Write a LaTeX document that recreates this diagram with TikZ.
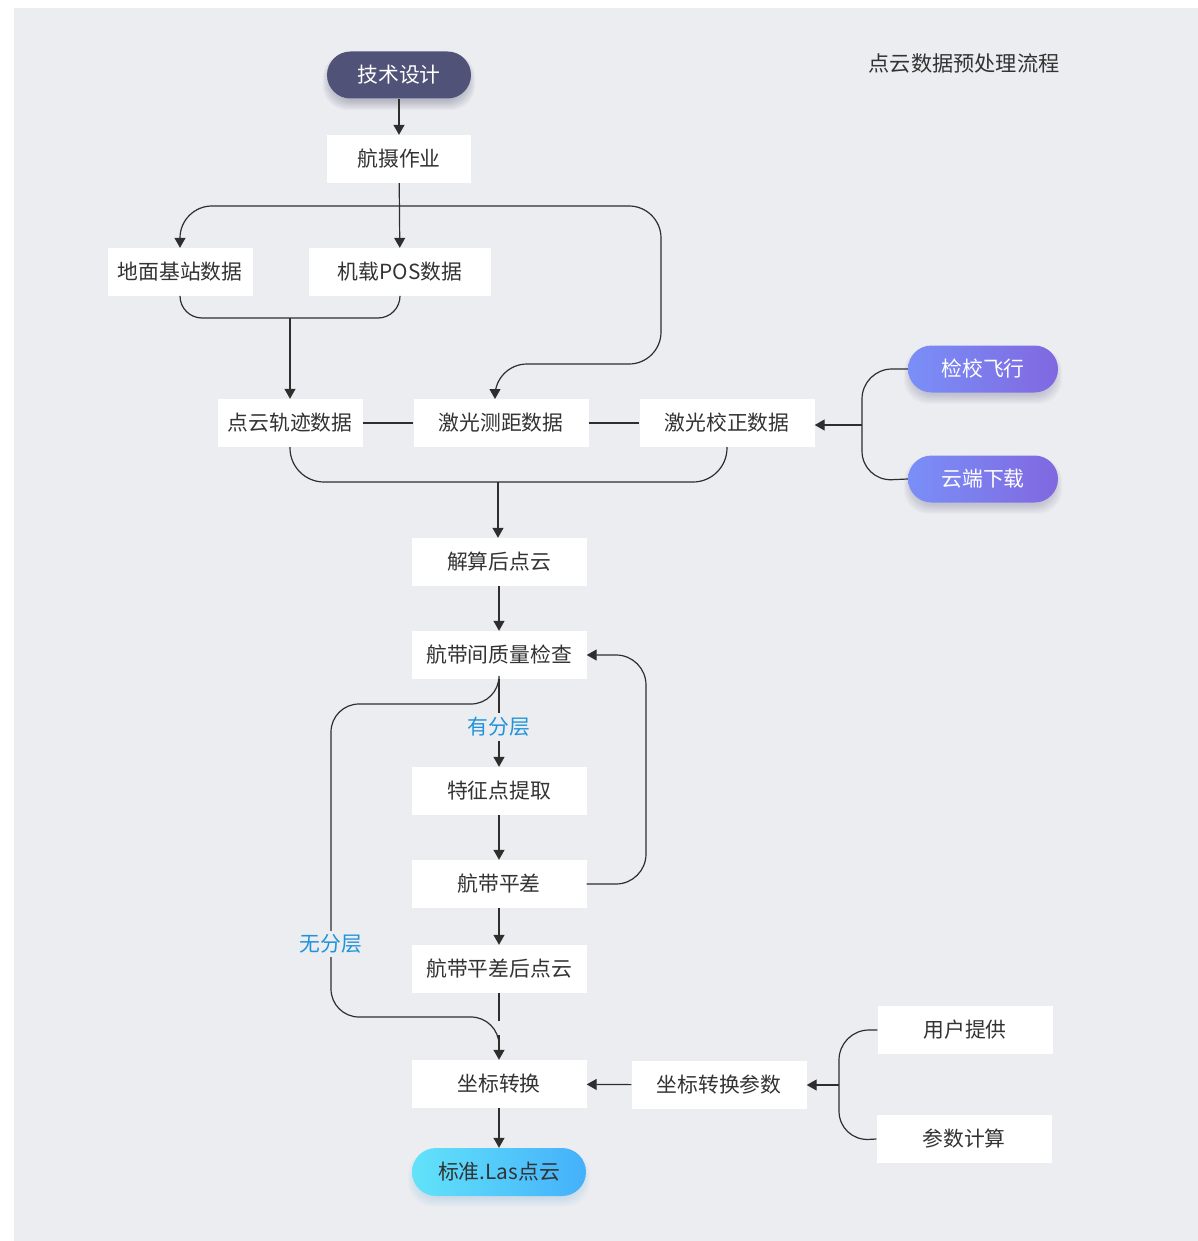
\documentclass[tikz,border=0pt]{standalone}
\usepackage{fontspec}
\setmainfont{Noto Sans CJK SC}
\usetikzlibrary{arrows.meta}
\definecolor{bg}{HTML}{ECEDF1}
\definecolor{txt}{HTML}{333333}
\definecolor{ln}{HTML}{2E2E2E}
\definecolor{lblue}{HTML}{1F93DA}
\definecolor{darkpill}{HTML}{505278}
\definecolor{purL}{HTML}{7A8FF7}
\definecolor{purR}{HTML}{8068E0}
\definecolor{cyL}{HTML}{62E3F9}
\definecolor{cyR}{HTML}{44B0FB}
\definecolor{shdark}{HTML}{3A3C60}
\definecolor{shpur}{HTML}{50507A}
\definecolor{shcy}{HTML}{40A0D0}
\begin{document}
\begin{tikzpicture}[x=1pt,y=-1pt,
  font=\fontsize{20.8}{24}\selectfont,
  box/.style={fill=white, text=txt, minimum width=175pt, minimum height=48pt, inner sep=0pt},
  pill/.style={rounded corners=23.5pt, minimum width=148pt, minimum height=47pt, inner sep=0pt},
  line/.style={draw=ln, line width=1.2pt},
  arr/.style={line, -{Triangle[width=11pt,length=10pt]}},
  lbl/.style={fill=bg, text=lblue, inner sep=4pt}]
\useasboundingbox (0,0) rectangle (1198,1241);
\fill[white] (0,0) rectangle (1198,1241);
\fill[bg] (14,8) rectangle (1198,1241);

% soft shadows under the pills
\foreach \cx/\cy/\w/\sc/\op in {399/75/144/shdark/0.035, 983/369/150/shpur/0.03, 983/479/150/shpur/0.03, 499/1172/174/shcy/0.02}{
  \foreach \i in {1,...,9}{
    \fill[\sc, opacity=\op, rounded corners=24pt]
      ({\cx-\w/2+4-\i*0.9}, {\cy-23+6-\i*0.5}) rectangle ({\cx+\w/2-4+\i*0.9}, {\cy+23+2+\i*1.1});
  }
}

% title
\node[text=txt, font=\fontsize{21.2}{25}\selectfont] (title) at (964,63) {点云数据预处理流程};

% nodes
\node[pill, fill=darkpill, text=white, minimum width=144pt] (tech) at (399,75) {技术设计};
\node[box, minimum width=144pt] (aerial) at (399,159) {航摄作业};
\node[box, minimum width=145pt] (ground) at (180,272) {地面基站数据};
\node[box, minimum width=182pt] (pos) at (400,272) {机载POS数据};
\node[box, minimum width=145pt] (track) at (290,423) {点云轨迹数据};
\node[box] (range) at (501,423) {激光测距数据};
\node[box] (corr) at (727,423) {激光校正数据};
\node[pill, left color=purL, right color=purR, text=white, minimum width=150pt] (check) at (983,369) {检校飞行};
\node[pill, left color=purL, right color=purR, text=white, minimum width=150pt] (cloud) at (983,479) {云端下载};
\node[box] (solve) at (499,562) {解算后点云};
\node[box] (qc) at (499,655) {航带间质量检查};
\node[box] (feat) at (499,791) {特征点提取};
\node[box] (adj) at (499,884) {航带平差};
\node[box] (after) at (499,969) {航带平差后点云};
\node[box] (conv) at (499,1084) {坐标转换};
\node[box] (param) at (719,1085) {坐标转换参数};
\node[box] (user) at (965,1030) {用户提供};
\node[box] (calc) at (964,1139) {参数计算};
\node[pill, left color=cyL, right color=cyR, text=txt, minimum width=174pt, minimum height=48pt, rounded corners=24pt] (las) at (499,1172) {标准.Las点云};

% junction coordinates
\coordinate (j1) at (399,206);
\coordinate (rin) at (495,399);
\coordinate (j2) at (290,318);
\coordinate (j3) at (498,482);
\coordinate (j4) at (862,425);
\coordinate (j5) at (839,1085);

% connectors
\draw[arr] (tech) -- (aerial);
\draw[arr] (aerial) -- (pos);
\draw[arr, rounded corners=32pt] (j1) -| (ground.north);
\draw[arr, rounded corners=32pt] (j1) -- (661,206) -- (661,364) -- (495,364) -- (rin);
\draw[line, rounded corners=22pt] (ground.south) -- (180,318) -- (400,318) -- (pos.south);
\draw[arr] (j2) -- (track.north);
\draw[line] (track) -- (range);
\draw[line] (range) -- (corr);
\draw[line, rounded corners=34pt] (track.south) -- (290,482) -- (727,482) -- (corr.south);
\draw[arr] (j3) -- (j3 |- solve.north);
\draw[line, rounded corners=30pt] (check.west) -- (862,369) -- (862,481) -- (cloud.west);
\draw[arr] (j4) -- (j4 -| corr.east);
\draw[arr] (solve) -- (qc);
\draw[arr] (qc) -- (feat);
\node[lbl] (yes) at (499,727) {有分层};
\draw[line, rounded corners=28pt] (qc.south) -- (499,704) -- (331,704) -- (331,1017) -- (499,1017) -- (499,1045);
\draw[arr] (499,1035) -- (conv.north);
\node[lbl] (no) at (331,944) {无分层};
\draw[arr] (feat) -- (adj);
\draw[arr, rounded corners=30pt] (adj.east) -- (646,884) -- (646,655) -- (qc.east);
\draw[arr] (adj) -- (after);
\draw[line] (after.south) -- ++(0,28);
\draw[arr] (param) -- (conv);
\draw[line, rounded corners=30pt] (user.west) -- (839,1030) -- (839,1141) -- (calc.west);
\draw[arr] (j5) -- (param.east);
\draw[arr] (conv) -- (las);
\end{tikzpicture}
\end{document}
